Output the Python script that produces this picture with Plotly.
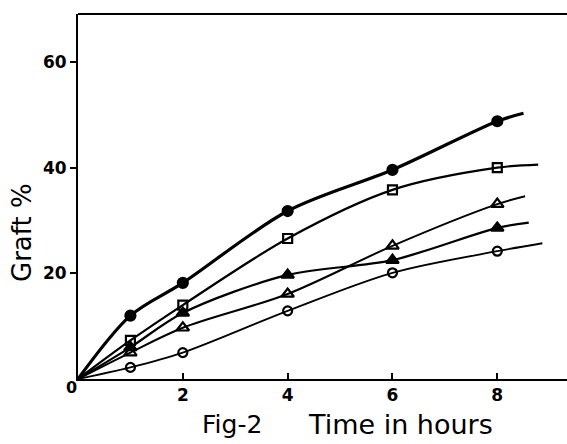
import plotly.graph_objects as go

# Time in hours
time = [0, 1, 2, 4, 6, 8]

# Graft % series
filled_circle = [0, 12.0, 18.2, 31.8, 39.6, 48.8]
open_square = [0, 7.3, 14.0, 26.6, 35.8, 40.0]
filled_triangle = [0, 6.0, 12.5, 19.7, 22.5, 28.6]
open_triangle = [0, 5.0, 9.7, 16.1, 25.2, 33.1]
open_circle = [0, 2.2, 5.0, 12.9, 20.1, 24.2]

# Hand-drawn curve extensions beyond last point (x, y)
ext_filled_circle = (8.5, 50.3)
ext_open_square = (8.78, 40.6)
ext_filled_triangle = (8.6, 29.6)
ext_open_triangle = (8.53, 34.6)
ext_open_circle = (8.86, 25.7)

x_ticks = [2, 4, 6, 8]
y_ticks = [20, 40, 60]

series = [
    (filled_circle, ext_filled_circle, "circle", 10, 3.2),
    (open_square, ext_open_square, "square-open", 9, 2.2),
    (filled_triangle, ext_filled_triangle, "triangle-up", 11, 2.2),
    (open_triangle, ext_open_triangle, "triangle-up-open", 11, 2.0),
    (open_circle, ext_open_circle, "circle-open", 9, 1.8),
]

fig = go.Figure()
for ys, ext, sym, size, lw in series:
    fig.add_trace(go.Scatter(
        x=time + [ext[0]], y=ys + [ext[1]], mode="lines",
        line=dict(color="black", width=lw, shape="spline", smoothing=0.9),
        showlegend=False, hoverinfo="skip"))
    fig.add_trace(go.Scatter(
        x=time[1:], y=ys[1:], mode="markers",
        marker=dict(symbol=sym, size=size, color="black",
                    line=dict(color="black", width=2.2)),
        showlegend=False))

font_fam = "DejaVu Sans"
fig.update_layout(
    width=567, height=444,
    margin=dict(l=78, r=0, t=14, b=65),
    paper_bgcolor="white", plot_bgcolor="white",
    xaxis=dict(range=[0, 9.33], tickvals=x_ticks, ticktext=[str(v) for v in x_ticks],
               showgrid=False, zeroline=False, showline=True, linecolor="black",
               linewidth=2, mirror=False, ticks="inside", ticklen=6, tickwidth=2,
               tickcolor="black",
               tickfont=dict(family=font_fam, size=17, color="black", weight="bold")),
    yaxis=dict(range=[0, 69.1], tickvals=y_ticks, ticktext=[str(v) for v in y_ticks],
               showgrid=False, zeroline=False, showline=True, linecolor="black",
               linewidth=2, ticks="outside", ticklen=6, tickwidth=2, tickcolor="black",
               tickfont=dict(family=font_fam, size=17, color="black", weight="bold")),
    shapes=[dict(type="line", xref="paper", yref="paper", x0=0, x1=1, y0=1, y1=1,
                 line=dict(color="black", width=2))],
    annotations=[
        dict(x=0, y=0, xref="x", yref="y", text="0", showarrow=False,
             xshift=-7, yshift=-8,
             font=dict(family=font_fam, size=16, color="black", weight="bold")),
        dict(x=0.315, y=-0.126, xref="paper", yref="paper", text="Fig-2",
             showarrow=False, xanchor="center", yanchor="middle",
             font=dict(family=font_fam, size=25, color="black")),
        dict(x=0.66, y=-0.126, xref="paper", yref="paper", text="Time in hours",
             showarrow=False, xanchor="center", yanchor="middle",
             font=dict(family=font_fam, size=27, color="black")),
        dict(x=-0.1145, y=0.40, xref="paper", yref="paper", text="Graft %",
             showarrow=False, textangle=-90, xanchor="center", yanchor="middle",
             font=dict(family=font_fam, size=26, color="black")),
    ],
)

fig.write_html("out.html")
